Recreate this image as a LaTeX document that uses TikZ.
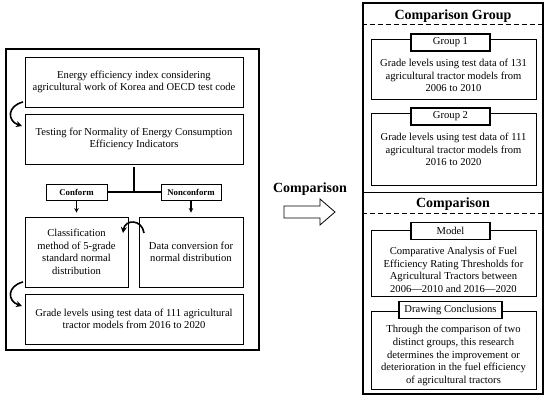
\documentclass[tikz,border=0pt]{standalone}
\usepackage{fontspec}
\setmainfont{Liberation Serif}
\usetikzlibrary{arrows.meta,positioning,calc}

\begin{document}
\begin{tikzpicture}[x=1pt, y=-1pt,
    panel/.style={rectangle, draw, line width=1.6pt, inner sep=0pt},
    stepbox/.style={rectangle, draw, line width=0.9pt, align=center, inner sep=0pt, font=\fontsize{10.6}{12.6}\selectfont},
    tag/.style={rectangle, draw, line width=0.9pt, inner sep=0pt, minimum height=16pt, font=\bfseries\fontsize{8.8}{10}\selectfont},
    tab/.style={rectangle, draw, fill=white, line width=1.5pt, inner sep=0pt, minimum height=17pt, font=\fontsize{10.6}{12}\selectfont},
    txt/.style={align=center, inner sep=0pt, font=\fontsize{10.6}{12.6}\selectfont},
    title/.style={inner sep=0pt, font=\bfseries\fontsize{14}{16}\selectfont},
    divider/.style={line width=1pt, dash pattern=on 5pt off 3pt},
    loop/.style={line width=1.6pt, -{Stealth[length=6pt,width=6pt]}}]
    \useasboundingbox (0,0) rectangle (550,401);

    % left panel: grading procedure
    \node [panel, minimum width=253pt, minimum height=301pt] (leftpanel) at (132.5,199.5) {};
    \node [stepbox, minimum width=218pt, minimum height=50pt] (index) at (134,82) {
        Energy efficiency index considering\\
        agricultural work of Korea and OECD test code
    };
    \node [stepbox, minimum width=218pt, minimum height=50pt] (normtest) at (134,139) {
        Testing for Normality of Energy Consumption\\
        Efficiency Indicators
    };
    \node [tag, minimum width=61pt] (conform) at (76.5,192) {Conform};
    \node [tag, minimum width=60pt] (nonconform) at (191,192) {Nonconform};
    \node [stepbox, minimum width=103pt, minimum height=70pt] (classify) at (76.5,252) {
        Classification\\
        method of 5-grade\\
        standard normal\\
        distribution
    };
    \node [stepbox, minimum width=104pt, minimum height=70pt] (convert) at (191,252) {
        Data conversion for\\
        normal distribution
    };
    \node [stepbox, minimum width=218pt, minimum height=50pt] (grades) at (134,319) {
        Grade levels using test data of 111 agricultural\\
        tractor models from 2016 to 2020
    };

    % split after the normality test
    \coordinate (split) at (normtest.south |- conform.east);
    \draw [line width=1.4pt] ([yshift=-3pt]normtest.south) -- (split);
    \draw [line width=1.4pt] (conform.east) -- (nonconform.west);
    \draw [line width=1.1pt, -{Stealth[length=4.5pt,width=4.5pt]}] (conform.south) -- ([yshift=4pt]classify.north);
    \draw [line width=1.1pt, -{Stealth[length=4.5pt,width=4.5pt]}] (nonconform.south) -- ([yshift=4pt]convert.north);

    % curved arrows
    \coordinate (loopa) at (23,102);
    \coordinate (loopb) at (22,126);
    \coordinate (loopc) at (144,233);
    \coordinate (loopd) at (123,233);
    \coordinate (loope) at (23,282);
    \coordinate (loopf) at (22,306);
    \draw [loop] (loopa) .. controls (7,106) and (7,121) .. (loopb);
    \draw [loop] (loopc) .. controls (142,219) and (125,219) .. (loopd);
    \draw [loop] (loope) .. controls (7,286) and (7,301) .. (loopf);

    % middle arrow
    \node [title] (cmplabel) at (310,189) {Comparison};
    \draw [line width=0.8pt] (284,206) -- (320,206) -- (320,199) -- (335,212)
        -- (320,225) -- (320,218) -- (284,218) -- cycle;

    % right panel: comparison group
    \node [panel, minimum width=180pt, minimum height=189.5pt] (grouppanel) at (453,97.75) {};
    \node [title] (grouptitle) at (453,16) {Comparison Group};
    \draw [divider] ([yshift=-22pt]grouppanel.north west) -- ([yshift=-22pt]grouppanel.north east);
    \node [stepbox, minimum width=165pt, minimum height=60pt] (group1) at (453.5,69) {};
    \node [tab, minimum width=79pt] (group1tab) at (450.5,42.5) {Group 1};
    \node [txt] (group1txt) at (453.5,75.5) {
        Grade levels using test data of 131\\
        agricultural tractor models from\\
        2006 to 2010
    };
    \node [stepbox, minimum width=165pt, minimum height=72pt] (group2) at (453.5,149) {};
    \node [tab, minimum width=79pt] (group2tab) at (450.5,116.5) {Group 2};
    \node [txt] (group2txt) at (453.5,149.5) {
        Grade levels using test data of 111\\
        agricultural tractor models from\\
        2016 to 2020
    };

    % right panel: comparison
    \node [panel, minimum width=180pt, minimum height=201.5pt] (cmppanel) at (453,293.25) {};
    \node [title] (cmptitle) at (453,204.5) {Comparison};
    \draw [divider] ([yshift=-21.5pt]cmppanel.north west) -- ([yshift=-21.5pt]cmppanel.north east);
    \node [stepbox, minimum width=165pt, minimum height=66pt] (model) at (453.5,263) {};
    \node [tab, minimum width=79pt] (modeltab) at (450.5,231) {Model};
    \node [txt] (modeltxt) at (453.5,270) {
        Comparative Analysis of Fuel\\
        Efficiency Rating Thresholds for\\
        Agricultural Tractors between\\
        2006---2010 and 2016---2020
    };
    \node [stepbox, minimum width=165pt, minimum height=78pt] (conclude) at (453.5,350) {};
    \node [tab, minimum width=103pt] (concludetab) at (450.5,310) {Drawing Conclusions};
    \node [txt] (concludetxt) at (453.5,355.5) {
        Through the comparison of two\\
        distinct groups, this research\\
        determines the improvement or\\
        deterioration in the fuel efficiency\\
        of agricultural tractors
    };
\end{tikzpicture}
\end{document}
